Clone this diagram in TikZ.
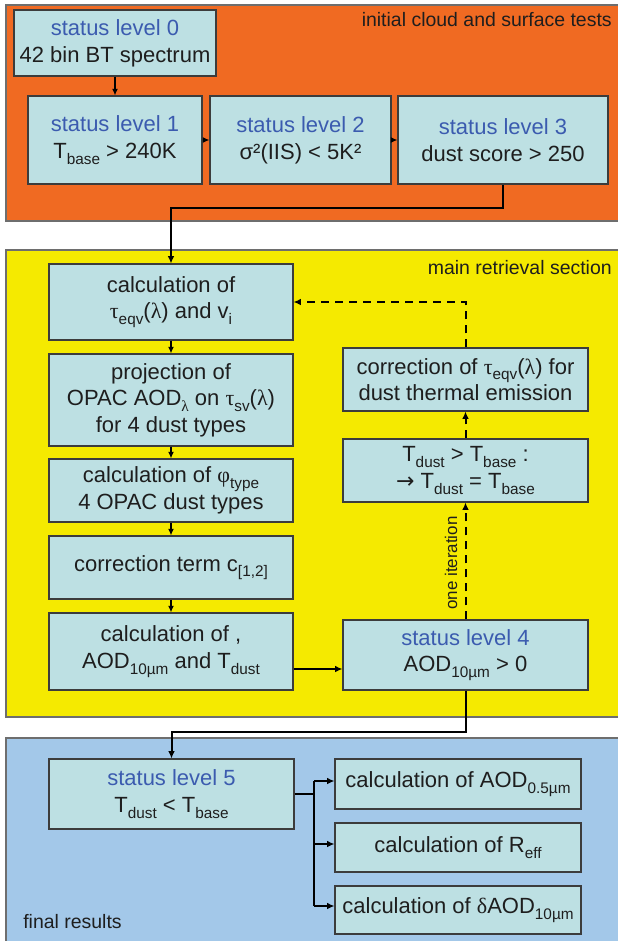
\documentclass[tikz,border=0pt]{standalone}
\usepackage{fontspec}
\setmainfont{Liberation Sans}
\newfontfamily\grkfont{Liberation Serif}
\newfontfamily\arrfont{DejaVu Sans}
\usetikzlibrary{arrows.meta}
\definecolor{orangebg}{RGB}{240,106,34}
\definecolor{yellowbg}{RGB}{245,234,0}
\definecolor{bluebg}{RGB}{163,200,233}
\definecolor{boxfill}{RGB}{189,224,227}
\definecolor{boxline}{RGB}{60,60,60}
\definecolor{secline}{RGB}{110,110,110}
\definecolor{statusblue}{RGB}{59,91,175}
\definecolor{txt}{RGB}{30,30,30}
\newcommand\sbx[1]{\raisebox{-4.2pt}{\fontsize{11.5pt}{12pt}\selectfont #1}}
\newcommand\gk[1]{{\grkfont #1}}
\newcommand\stl[1]{{\color{statusblue}#1}}
\begin{document}
\begin{tikzpicture}[x=0.75pt,y=-0.75pt,
  section/.style={draw=secline,line width=1pt},
  bx/.style 2 args={draw=boxline,fill=boxfill,line width=0.8pt,inner sep=0pt,
    align=center,text=txt,minimum width=#1*0.75pt,minimum height=#2*0.75pt,
    font=\fontsize{16.5pt}{20pt}\selectfont},
  sectlabel/.style={text=txt,inner sep=0pt,font=\fontsize{14.6pt}{16pt}\selectfont},
  small/.style={line width=1.1pt,-{Latex[length=5pt,width=4.5pt]}},
  conn/.style={line width=1.5pt,-{Latex[length=5.5pt,width=5pt]}},
  plainconn/.style={line width=1.5pt},
  dconn/.style={line width=1.5pt,dash pattern=on 6pt off 4.5pt,-{Latex[length=5.5pt,width=5pt]}}]
\useasboundingbox (0,0) rectangle (617,941);
\fill[white] (0,0) rectangle (617,941);
% sections
\draw[section,fill=orangebg] (6,5) rectangle (630,221);
\draw[section,fill=yellowbg] (6,250) rectangle (630,717);
\draw[section,fill=bluebg] (6,738) rectangle (630,950);
\node[sectlabel,anchor=east] (lab1) at (612,20) {initial cloud and surface tests};
\node[sectlabel,anchor=east] (lab2) at (612,268) {main retrieval section};
\node[sectlabel,anchor=west] (lab3) at (23,922) {final results};
% top boxes
\node[bx={202}{66}] (L0) at (115,43) {\stl{status level 0}\\42 bin BT spectrum};
\node[bx={174}{88}] (L1) at (115,140) {\stl{status level 1}\\T\sbx{base} > 240K};
\node[bx={181}{88}] (L2) at (300.5,140) {\stl{status level 2}\\σ²(IIS) < 5K²};
\node[bx={210}{88}] (L3) at (503,140) {\stl{status level 3}\\dust score > 250};
% main boxes
\node[bx={244}{76}] (calc1) at (171,302) {calculation of\\\gk{τ}\sbx{eqv}(\gk{λ}) and v\sbx{i}};
\node[bx={244}{92}] (proj) at (171,400) {projection of\\OPAC AOD\sbx{\gk{λ}} on \gk{τ}\sbx{sv}(\gk{λ})\\for 4 dust types};
\node[bx={244}{63}] (phi) at (171,490.5) {calculation of \gk{φ}\sbx{type}\\4 OPAC dust types};
\node[bx={244}{63}] (corr) at (171,567.5) {correction term c\sbx{[1,2]}};
\node[bx={244}{77}] (caod) at (171,651.5) {calculation of ,\\AOD\sbx{10µm} and T\sbx{dust}};
\node[bx={245}{63}] (therm) at (465.5,379.5) {correction of \gk{τ}\sbx{eqv}(\gk{λ}) for\\dust thermal emission};
\node[bx={245}{63}] (tdust) at (465.5,470.5) {T\sbx{dust} > T\sbx{base} :\\{\arrfont →} T\sbx{dust} = T\sbx{base}};
\node[bx={245}{70}] (s4) at (465.5,655) {\stl{status level 4}\\AOD\sbx{10µm} > 0};
% final boxes
\node[bx={245}{70}] (s5) at (171.5,794) {\stl{status level 5}\\T\sbx{dust} < T\sbx{base}};
\node[bx={246}{50}] (r1) at (458,784) {calculation of AOD\sbx{0.5µm}};
\node[bx={246}{49}] (r2) at (458,847.5) {calculation of R\sbx{eff}};
\node[bx={246}{48}] (r3) at (458,910) {calculation of \gk{δ}AOD\sbx{10µm}};
% connectors top
\draw[small] (L0.south) -- (L1.north);
\draw[small] (L1.east) -- (L2.west);
\draw[small] (L2.east) -- (L3.west);
\draw[conn] (L3.south) -- ++(0,23) -| (calc1.north);
% main
\draw[small] (calc1.south) -- (proj.north);
\draw[small] (proj.south) -- (phi.north);
\draw[small] (phi.south) -- (corr.north);
\draw[small] (corr.south) -- (caod.north);
\draw[conn] (caod.east |- 0,669) -- (s4.west |- 0,669);
\draw[dconn] (s4.north) -- (tdust.south);
\node[sectlabel,rotate=90,font=\fontsize{12.7pt}{13pt}\selectfont] (iter) at (451,563) {one iteration};
\draw[dconn] (tdust.north) -- (therm.south);
\draw[dconn] (therm.north) |- (calc1.east);
\draw[conn] (s4.south) -- ++(0,41) -| (s5.north);
% final branch
\coordinate (b1) at (314,781);
\coordinate (b2) at (314,844);
\coordinate (b3) at (314,906);
\draw[plainconn] (s5.east) -- (s5.east -| b1);
\draw[plainconn] (b1) -- (b3);
\draw[conn] (b1) -- (b1 -| r1.west);
\draw[conn] (b2) -- (b2 -| r2.west);
\draw[conn] (b3) -- (b3 -| r3.west);
\end{tikzpicture}
\end{document}
